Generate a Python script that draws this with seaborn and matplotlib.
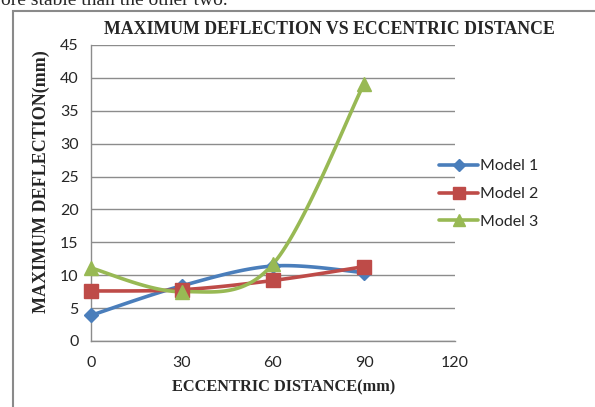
import numpy as np
import pandas as pd
import matplotlib
matplotlib.use('Agg')
import matplotlib.pyplot as plt
from matplotlib.lines import Line2D
from matplotlib.patches import Rectangle
import seaborn as sns

# Data
distance = [0, 30, 60, 90]
model_1 = [3.9, 8.4, 11.4, 10.4]
model_2 = [7.6, 7.8, 9.2, 11.3]
model_3 = [11.1, 7.5, 11.7, 39.1]
models = ['Model 1', 'Model 2', 'Model 3']
x_ticks = [0, 30, 60, 90, 120]
y_ticks = [0, 5, 10, 15, 20, 25, 30, 35, 40, 45]

colors = {'Model 1': '#4A7EBB', 'Model 2': '#BE4B48', 'Model 3': '#98B954'}
markers = {'Model 1': 'D', 'Model 2': 's', 'Model 3': '^'}
msizes = {'Model 1': 7, 'Model 2': 10, 'Model 3': 10}


# Excel style smoothed line (cubic bezier through the points)
def smooth(xs, ys, n=40):
    p = np.column_stack([xs, ys]).astype(float)
    pts = []
    for i in range(len(p) - 1):
        p0 = p[max(i - 1, 0)]
        p1 = p[i]
        p2 = p[i + 1]
        p3 = p[min(i + 2, len(p) - 1)]
        c1 = p1 + (p2 - p0) / 6
        c2 = p2 - (p3 - p1) / 6
        t = np.linspace(0, 1, n)[:, None]
        seg = ((1 - t) ** 3) * p1 + 3 * ((1 - t) ** 2) * t * c1 + 3 * (1 - t) * t ** 2 * c2 + t ** 3 * p2
        pts.append(seg)
    pts = np.vstack(pts)
    return pts[:, 0], pts[:, 1]


sns.set_style('white')
plt.rcParams['font.family'] = ['Lato', 'DejaVu Sans']

fig = plt.figure(figsize=(5.95, 4.07), dpi=100)
ax = fig.add_axes([91 / 595, 1 - 341 / 407, (455 - 91) / 595, (341 - 45) / 407])

points = pd.DataFrame({'x': distance * 3,
                       'y': model_1 + model_2 + model_3,
                       'model': np.repeat(models, len(distance))})

curves = []
for m, vals in zip(models, [model_1, model_2, model_3]):
    sx, sy = smooth(distance, vals)
    curves.append(pd.DataFrame({'x': sx, 'y': sy, 'model': m}))
curves = pd.concat(curves, ignore_index=True)

for m in models:
    c = curves[curves['model'] == m]
    sns.lineplot(data=c, x='x', y='y', sort=False, color=colors[m], lw=2.6,
                 ax=ax, legend=False, zorder=3)
for m in models:
    d = points[points['model'] == m]
    ax.plot(d['x'], d['y'], ls='none', marker=markers[m], ms=msizes[m],
            color=colors[m], mec=colors[m], zorder=4, clip_on=False)

ax.set_xlim(0, 120)
ax.set_ylim(0, 45)
ax.set_xticks(x_ticks)
ax.set_yticks(y_ticks)
ax.yaxis.grid(True, color='#8C8C8C', lw=1)
ax.xaxis.grid(False)
for s in ['top', 'right']:
    ax.spines[s].set_visible(False)
for s in ['left', 'bottom']:
    ax.spines[s].set_color('#8C8C8C')
    ax.spines[s].set_linewidth(1)
ax.tick_params(axis='both', which='both', length=5, width=1, color='#8C8C8C',
               labelsize=11.5, labelcolor='#262626', direction='out')
ax.tick_params(axis='y', pad=4)
ax.tick_params(axis='x', pad=6)
ax.set_xlabel('')
ax.set_ylabel('')

serif = ['Liberation Serif', 'DejaVu Serif']
fig.text(329 / 595, 1 - 29 / 407, 'MAXIMUM DEFLECTION VS ECCENTRIC DISTANCE',
         ha='center', va='center', fontsize=12.8, fontweight='bold', family=serif)
fig.text(284 / 595, 1 - 387 / 407, 'ECCENTRIC DISTANCE(mm)',
         ha='center', va='center', fontsize=11.8, fontweight='bold', family=serif)
fig.text(41 / 595, 1 - 182 / 407, 'MAXIMUM DEFLECTION(mm)', rotation=90,
         ha='center', va='center', fontsize=13, fontweight='bold', family=serif)

handles = [Line2D([], [], color=colors[m], lw=2.6, marker=markers[m],
                  ms=msizes[m] - 1, mec=colors[m]) for m in models]
fig.legend(handles, models, loc='center left', bbox_to_anchor=(433 / 595, 1 - 194 / 407),
           frameon=False, fontsize=11.5, handlelength=2.4, handletextpad=0.15,
           labelspacing=0.85, borderaxespad=0)

# surrounding frame of the embedded chart and the cut text above it
fig.patches.append(Rectangle((13 / 595, -0.1), 1.2, 1 - 11 / 407 + 0.1,
                             transform=fig.transFigure, fill=False,
                             ec='#8A8A8A', lw=1.5))
fig.text(0.002, 1 - 5 / 407, 'ore stable than the other two.', ha='left',
         va='baseline', fontsize=14, family=serif)

fig.savefig('out.png', dpi=100)
